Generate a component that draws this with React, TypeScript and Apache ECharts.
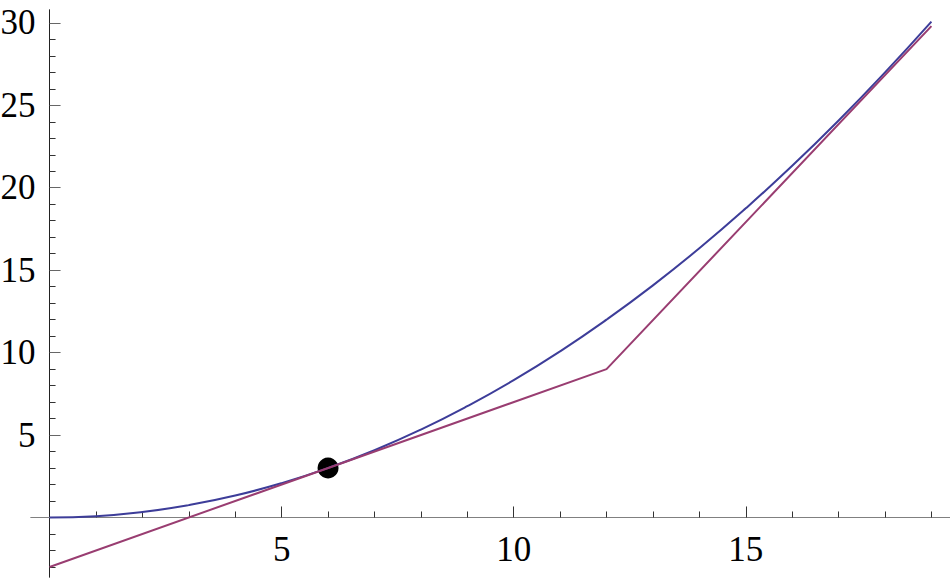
import React, { useEffect, useRef } from "react";
import * as echarts from "echarts";

// Blue curve (x, y)
const blueX = [0, 1, 2, 3, 4, 5, 6, 7, 8, 9, 10, 11, 12, 13, 14, 15, 16, 17, 18, 19];
const blueY = [0, 0.08, 0.33, 0.75, 1.33, 2.08, 3.0, 4.08, 5.33, 6.75, 8.33, 10.08, 12.0, 14.08, 16.33, 18.75, 21.33, 24.08, 27.0, 30.08];

// Purple broken line
const purpleX = [0, 12, 19];
const purpleY = [-3, 9, 29.8];

// Marked point
const pointX = [6];
const pointY = [3];

// Ticks and labels
const xMajorTicks = [5, 10, 15];
const xMinorTicks = [1, 2, 3, 4, 6, 7, 8, 9, 11, 12, 13, 14, 16, 17, 18, 19];
const xLabels = [5, 10, 15];
const yMajorTicks = [5, 10, 15, 20, 25, 30];
const yMinorTicks = [-3, -2, -1, 1, 2, 3, 4, 6, 7, 8, 9, 11, 12, 13, 14, 16, 17, 18, 19, 21, 22, 23, 24, 26, 27, 28, 29];
const yLabels = [5, 10, 15, 20, 25, 30];

const FONT = "'Liberation Serif', 'DejaVu Serif', serif";

export default function App() {
  const ref = useRef<HTMLDivElement>(null);

  useEffect(() => {
    if (!ref.current) return;
    const chart = echarts.init(ref.current, undefined, { renderer: "svg" });
    const W = 950, H = 579;
    const G = { left: 31, right: 0, top: 10, bottom: 2 };
    const xMin = -0.4, xMax = 19.4, yMin = -3.61, yMax = 30.78;
    const gw = W - G.left - G.right;
    const gh = H - G.top - G.bottom;
    // offsets that bring the axes to cross at the origin
    const yAxisOffset = -((0 - xMin) / (xMax - xMin)) * gw;
    const xAxisOffset = -((0 - yMin) / (yMax - yMin)) * gh;

    const xRange = { min: xMin, max: xMax };
    const yRange = { min: yMin, max: yMax };
    const xLineStyle = { color: "#808080", width: 1 };
    const yLineStyle = { color: "#222", width: 1 };

    chart.setOption({
      animation: false,
      grid: { ...G, containLabel: false, outerBoundsMode: "none" },
      xAxis: [
        {
          type: "value", ...xRange, position: "bottom", offset: xAxisOffset,
          axisLine: { show: true, onZero: false, lineStyle: xLineStyle },
          axisTick: { show: true, inside: true, length: 6, customValues: xMinorTicks, lineStyle: { color: "#333", width: 1 } },
          axisLabel: { show: true, customValues: xLabels, margin: 15, fontSize: 35, fontFamily: FONT, color: "#000" },
          splitLine: { show: false },
        },
        {
          type: "value", ...xRange, position: "bottom", offset: xAxisOffset,
          axisLine: { show: true, onZero: false, lineStyle: xLineStyle },
          axisTick: { show: true, inside: true, length: 11, customValues: xMajorTicks, lineStyle: { color: "#333", width: 1 } },
          axisLabel: { show: false },
          splitLine: { show: false },
        },
      ],
      yAxis: [
        {
          type: "value", ...yRange, position: "left", offset: yAxisOffset,
          axisLine: { show: true, onZero: false, lineStyle: yLineStyle },
          axisTick: { show: true, inside: true, length: 6, customValues: yMinorTicks, lineStyle: { color: "#333", width: 1 } },
          axisLabel: { show: true, customValues: yLabels, margin: 14, fontSize: 35, fontFamily: FONT, color: "#000" },
          splitLine: { show: false },
        },
        {
          type: "value", ...yRange, position: "left", offset: yAxisOffset,
          axisLine: { show: true, onZero: false, lineStyle: yLineStyle },
          axisTick: { show: true, inside: true, length: 11, customValues: yMajorTicks, lineStyle: { color: "#666", width: 1 } },
          axisLabel: { show: false },
          splitLine: { show: false },
        },
      ],
      series: [
        {
          type: "line",
          xAxisIndex: 0, yAxisIndex: 0,
          data: blueX.map((x, i) => [x, blueY[i]]),
          smooth: true,
          showSymbol: false,
          lineStyle: { color: "#3d3d99", width: 2 },
        },
        {
          type: "line",
          xAxisIndex: 0, yAxisIndex: 0,
          data: purpleX.map((x, i) => [x, purpleY[i]]),
          showSymbol: false,
          lineStyle: { color: "#993d71", width: 2 },
        },
        {
          type: "scatter",
          xAxisIndex: 0, yAxisIndex: 0,
          data: pointX.map((x, i) => [x, pointY[i]]),
          symbolSize: 21,
          itemStyle: { color: "#000", opacity: 1 },
        },
      ],
    });
    return () => chart.dispose();
  }, []);

  return (
    <div
      ref={ref}
      style={{ position: "fixed", left: 0, top: 0, width: 950, height: 579, background: "#fff" }}
    />
  );
}
